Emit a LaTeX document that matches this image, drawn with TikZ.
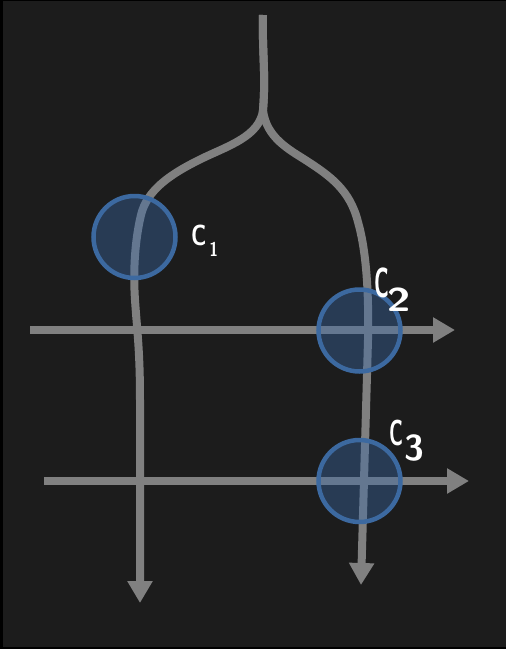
\documentclass[tikz,border=0pt]{standalone}
\usepackage{graphicx}
\usetikzlibrary{arrows.meta}
\definecolor{bgc}{HTML}{1C1C1C}
\definecolor{linec}{HTML}{808080}
\definecolor{circs}{HTML}{3C69A0}
\definecolor{circf}{RGB}{59,107,170}
\newcommand{\fs}[1]{\fontsize{#1}{#1}\selectfont}
\begin{document}
\begin{tikzpicture}[x=1pt,y=-1pt,
  flow/.style={draw=linec,line width=8pt},
  tipped/.style={-{Triangle[width=24pt,length=22pt]}},
  circ/.style={circle,draw=circs,line width=4.5pt,fill=circf,fill opacity=0.4,
    minimum size=82pt,inner sep=0pt},
  lab/.style={text=white,font=\sffamily\bfseries,inner sep=0pt,anchor=base west}]
\fill[black] (0,0) rectangle (506,649);
\fill[bgc] (3,1) rectangle (506,647);
\useasboundingbox (0,0) rectangle (506,649);
% coordinates
\coordinate (top) at (263,15);
\coordinate (fork) at (263,110);
\coordinate (lend) at (140,603);
\coordinate (rend) at (361,585);
\coordinate (h1s) at (30,330);
\coordinate (h1e) at (455,330);
\coordinate (h2s) at (44,481);
\coordinate (h2e) at (469,481);
% flows
\draw[flow,tipped] (top) .. controls (262,50) and (266,75) .. (fork)
  .. controls (260,136) and (228,146) .. (203,158)
  .. controls (170,174) and (147,190) .. (141,215)
  .. controls (135,240) and (133,270) .. (135,300)
  .. controls (137,330) and (140,350) .. (140,400) -- (lend);
\draw[flow,tipped] (top) .. controls (262,50) and (266,75) .. (fork)
  .. controls (266,138) and (290,150) .. (307,161)
  .. controls (330,176) and (350,190) .. (358,222)
  .. controls (366,250) and (369,290) .. (368,340) -- (rend);
\draw[flow,tipped] (h1s) -- (h1e);
\draw[flow,tipped] (h2s) -- (h2e);
% circles
\node[circ] (c1) at (134.5,237) {};
\node[circ] (c2) at (359.5,330.5) {};
\node[circ] (c3) at (359.5,481) {};
% labels
\node[lab] (l1) at (191,245) {{\fs{29}\scalebox{0.75}[1]{C}}\hspace{3pt}\raisebox{-11pt}{\fs{20}\scalebox{0.8}[1]{1}}};
\node[lab] (l2) at (374,297) {{\fs{42}\scalebox{0.5}[1]{C}}\hspace{-2pt}\raisebox{-14pt}{\fs{33}\scalebox{1.3}[1]{2}}};
\node[lab] (l3) at (389,445) {{\fs{36}\scalebox{0.55}[1]{C}}\hspace{1pt}\raisebox{-15pt}{\fs{36}3}};
\end{tikzpicture}
\end{document}
